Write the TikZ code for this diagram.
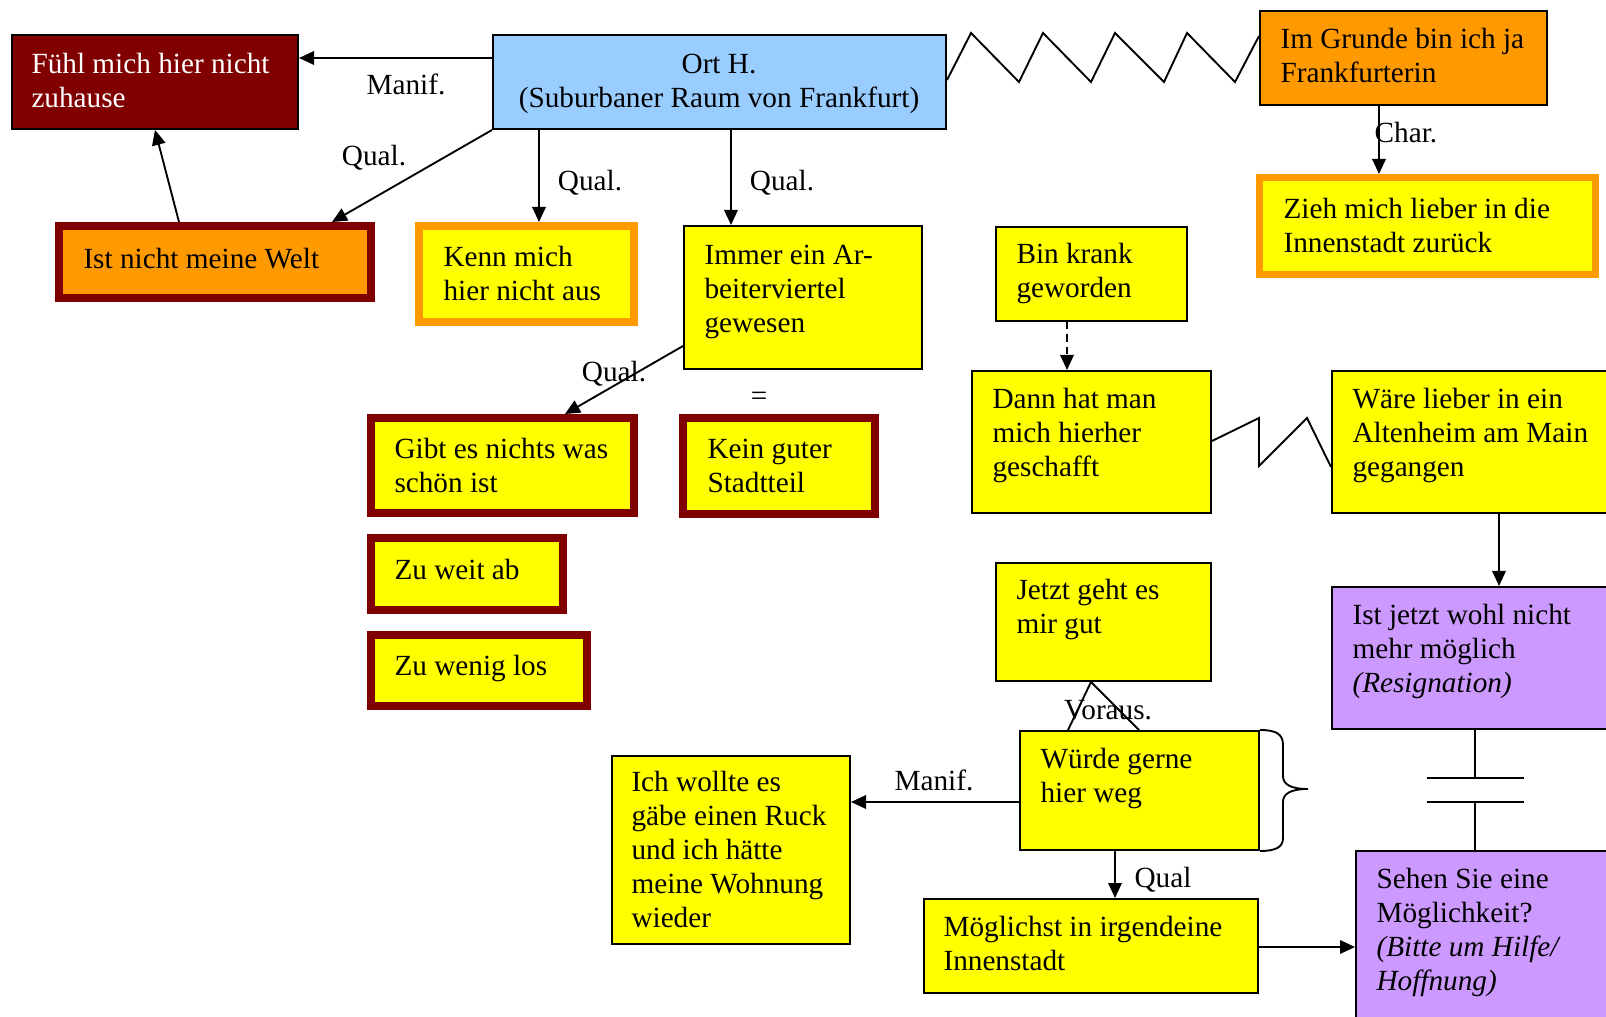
\documentclass[tikz,border=0pt]{standalone}
\usepackage{fontspec}
\setmainfont{Liberation Serif}
\usetikzlibrary{arrows.meta}

\definecolor{dred}{HTML}{800000}
\definecolor{orng}{HTML}{FF9900}
\definecolor{yllw}{HTML}{FFFF00}
\definecolor{sky}{HTML}{99CCFF}
\definecolor{lila}{HTML}{CC99FF}

% box from its outer corners (x1,y1)-(x2,y2); #7 = border width in drawing units
\newcommand\mkbox[7]{%
  \node[#2, minimum width={(#5-#3-#7)*0.4pt}, minimum height={(#6-#4-#7)*0.4pt}]
    (#1) at ({(#3+#5)/2},{(#4+#6)/2}) {};}

\tikzset{
  thin/.style={draw=black, line width=0.8pt, inner sep=0pt},
  fat/.style={line width=3.2pt, inner sep=0pt},
  txt/.style={anchor=north west, align=left, inner sep=0pt,
              font=\fontsize{11.7}{13.6}\selectfont},
  lbl/.style={anchor=base, inner sep=0pt, font=\fontsize{11.7}{13.6}\selectfont},
  conn/.style={line width=0.75pt},
  arr/.style={conn, -{Triangle[length=6pt, width=5.4pt]}},
}

\begin{document}
\begin{tikzpicture}[x=0.4pt, y=-0.4pt]
\useasboundingbox (0,0) rectangle (1606,1017);

% ---------- boxes ----------
\mkbox{fuehl}{thin, fill=dred}{11}{34}{299}{130}{2}
\mkbox{ort}{thin, fill=sky}{492}{34}{947}{130}{2}
\mkbox{grund}{thin, fill=orng}{1259}{10}{1548}{106}{2}
\mkbox{zieh}{fat, line width=2.8pt, draw=orng, fill=yllw}{1256}{174}{1599}{278}{7}
\mkbox{istnicht}{fat, draw=dred, fill=orng}{55}{222}{375}{302}{8}
\mkbox{kenn}{fat, draw=orng, fill=yllw}{415}{222}{638}{326}{8}
\mkbox{immer}{thin, fill=yllw}{683}{225}{923}{370}{2}
\mkbox{gibt}{fat, draw=dred, fill=yllw}{367}{414}{638}{517}{8}
\mkbox{zuweit}{fat, draw=dred, fill=yllw}{367}{534}{567}{614}{8}
\mkbox{zuwenig}{fat, draw=dred, fill=yllw}{367}{631}{591}{710}{8}
\mkbox{kein}{fat, draw=dred, fill=yllw}{679}{414}{879}{518}{8}
\mkbox{bin}{thin, fill=yllw}{995}{226}{1188}{322}{2}
\mkbox{dann}{thin, fill=yllw}{971}{370}{1212}{514}{2}
\mkbox{waere}{thin, fill=yllw}{1331}{370}{1640}{514}{2}
\mkbox{istjetzt}{thin, fill=lila}{1331}{586}{1640}{730}{2}
\mkbox{sehen}{thin, fill=lila}{1355}{850}{1640}{1050}{2}
\mkbox{jetzt}{thin, fill=yllw}{995}{562}{1212}{682}{2}
\mkbox{wuerde}{thin, fill=yllw}{1019}{730}{1260}{851}{2}
\mkbox{ichw}{thin, fill=yllw}{611}{755}{851}{945}{2}
\mkbox{moegl}{thin, fill=yllw}{923}{898}{1259}{994}{2}

% ---------- box texts ----------
\node[txt, text=white] (fuehl-t) at (31,49) {\strut Fühl mich hier nicht\\zuhause};
\node[txt, anchor=north, align=center] (ort-t) at (719,49) {\strut Ort H.\\(Suburbaner Raum von Frankfurt)};
\node[txt] (grund-t) at (1280,24) {\strut Im Grunde bin ich ja\\Frankfurterin};
\node[txt] (zieh-t) at (1283,194) {\strut Zieh mich lieber in die\\Innenstadt zurück};
\node[txt] (istnicht-t) at (83,244) {\strut Ist nicht meine Welt};
\node[txt] (kenn-t) at (443,242) {\strut Kenn mich\\hier nicht aus};
\node[txt] (immer-t) at (704,240) {\strut Immer ein Ar-\\beiterviertel\\gewesen};
\node[txt] (gibt-t) at (394,434) {\strut Gibt es nichts was\\schön ist};
\node[txt] (zuweit-t) at (394,555) {\strut Zu weit ab};
\node[txt] (zuwenig-t) at (394,651) {\strut Zu wenig los};
\node[txt] (kein-t) at (707,434) {\strut Kein guter\\Stadtteil};
\node[txt] (bin-t) at (1016,239) {\strut Bin krank\\geworden};
\node[txt] (dann-t) at (992,384) {\strut Dann hat man\\mich hierher\\geschafft};
\node[txt] (waere-t) at (1352,384) {\strut Wäre lieber in ein\\Altenheim am Main\\gegangen};
\node[txt] (istjetzt-t) at (1352,600) {\strut Ist jetzt wohl nicht\\mehr möglich\\\textit{(Resignation)}};
\node[txt] (sehen-t) at (1376,864) {\strut Sehen Sie eine\\Möglichkeit?\\\textit{(Bitte um Hilfe/}\\\textit{Hoffnung)}};
\node[txt] (jetzt-t) at (1016,575) {\strut Jetzt geht es\\mir gut};
\node[txt] (wuerde-t) at (1040,744) {\strut Würde gerne\\hier weg};
\node[txt] (ichw-t) at (631,767) {\strut Ich wollte es\\gäbe einen Ruck\\und ich hätte\\meine Wohnung\\wieder};
\node[txt] (moegl-t) at (943,912) {\strut Möglichst in irgendeine\\Innenstadt};

% ---------- connectors ----------
\draw[arr] (ort.west |- 0,58) -- (fuehl.east |- 0,58);
\draw[arr] (ort.south west) -- (istnicht.north -| 332,0);
\draw[arr] (istnicht.north -| 179,0) -- (fuehl.south -| 155,0);
\draw[arr] (ort.south -| 539,0) -- (kenn.north -| 539,0);
\draw[arr] (ort.south -| 731,0) -- (immer.north -| 731,0);
\draw[arr] (immer.west |- 0,346) -- (gibt.north -| 565,0);
\draw[arr] (grund.south -| 1379,0) -- (zieh.north -| 1379,0);
\draw[arr, dash pattern=on 3pt off 2pt] (bin.south -| 1067,0) -- (dann.north -| 1067,0);
\draw[arr] (waere.south -| 1499,0) -- (istjetzt.north -| 1499,0);
\draw[arr] (wuerde.west |- 0,802) -- (ichw.east |- 0,802);
\draw[arr] (wuerde.south -| 1115,0) -- (moegl.north -| 1115,0);
\draw[arr] (moegl.east |- 0,947) -- (sehen.west |- 0,947);

% precondition tent between the two boxes
\draw[conn] (wuerde.north -| 1068,0) -- (jetzt.south -| 1091,0) -- (wuerde.north -| 1139,0);

% opposition zigzags
\draw[conn] (ort.east |- 0,80) -- (971,33) -- (1019,82) -- (1043,33) -- (1091,82)
  -- (1115,33) -- (1164,82) -- (1187,33) -- (1235,82) -- (grund.west |- 0,36);
\draw[conn] (dann.east |- 0,441) -- (1259,418) -- (1259,466) -- (1307,418)
  -- (waere.west |- 0,467);

% interrupted link (two plates)
\coordinate (capa) at (1475,778);
\coordinate (capb) at (1475,802);
\draw[conn] (istjetzt.south -| capa) -- (capa);
\draw[conn] (1427,778) -- (1524,778);
\draw[conn] (1427,802) -- (1524,802);
\draw[conn] (capb) -- (sehen.north -| capb);

% curly brace on the right of "Würde gerne hier weg"
\draw[conn] (wuerde.north east) .. controls (1276,730) and (1283,734) .. (1283,745)
  -- (1283,776) .. controls (1283,784) and (1290,789) .. (1308,789)
  .. controls (1290,789) and (1283,794) .. (1283,802)
  -- (1283,838) .. controls (1283,847) and (1276,851) .. (wuerde.south east);

% ---------- connector labels ----------
\node[lbl] (l-manif1) at (406,95) {Manif.};
\node[lbl] (l-qual1) at (374,166) {Qual.};
\node[lbl] (l-qual2) at (590,191) {Qual.};
\node[lbl] (l-qual3) at (782,191) {Qual.};
\node[lbl] (l-char) at (1406,143) {Char.};
\node[lbl] (l-qual4) at (614,382) {Qual.};
\node[lbl, anchor=center] (l-eq) at (759,399) {=};
\node[lbl] (l-voraus) at (1108,720) {Voraus.};
\node[lbl] (l-manif2) at (934,790) {Manif.};
\node[lbl] (l-qual5) at (1163,887) {Qual};
\end{tikzpicture}
\end{document}
